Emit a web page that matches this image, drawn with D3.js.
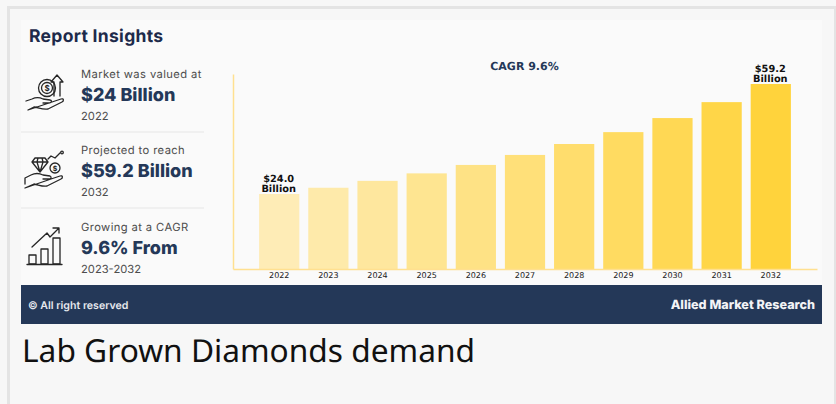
<!DOCTYPE html>
<html>
<head>
<meta charset="utf-8">
<script src="https://cdn.jsdelivr.net/npm/d3@7"></script>
<style>
  html, body { margin: 0; padding: 0; background: #f7f7f7; overflow: hidden; }
  text { text-rendering: geometricPrecision; }
  .pop { font-family: Inter, "Noto Sans", sans-serif; }
  .dv { font-family: "DejaVu Sans", sans-serif; }
  .ico path, .ico circle, .ico rect { fill: none; stroke: #262626; stroke-width: 1.3; stroke-linejoin: round; stroke-linecap: round; }
</style>
</head>
<body>
<script>
const years = [2022, 2023, 2024, 2025, 2026, 2027, 2028, 2029, 2030, 2031, 2032];
const values = [24.0, 26.0, 28.2, 30.6, 33.3, 36.5, 40.0, 43.8, 48.3, 53.4, 59.2];
const barLabels = { 2022: "$24.0", 2032: "$59.2" };

const insightLead = ["Market was valued at", "Projected to reach", "Growing at a CAGR"];
const insightMain = ["$24 Billion", "$59.2 Billion", "9.6% From"];
const insightNote = ["2022", "2032", "2023-2032"];

const W = 836, H = 404;
const navy = "#243858";

const svg = d3.select("body").append("svg")
  .attr("width", W)
  .attr("height", H)
  .style("display", "block");

// page frame
svg.append("rect").attr("width", W).attr("height", H).attr("fill", "#f7f7f7");
svg.append("rect").attr("x", 7).attr("y", 6).attr("width", 827).attr("height", 3).attr("fill", "#e4e4e4");
svg.append("rect").attr("x", 7).attr("y", 6).attr("width", 3).attr("height", H).attr("fill", "#e4e4e4");
svg.append("rect").attr("x", 834).attr("y", 6).attr("width", 2).attr("height", H).attr("fill", "#e4e4e4");

// card and footer
svg.append("rect").attr("x", 21).attr("y", 20).attr("width", 801).attr("height", 265).attr("fill", "#fafafa");
svg.append("rect").attr("x", 21).attr("y", 285).attr("width", 801).attr("height", 39).attr("fill", navy);

svg.append("text").attr("class", "pop")
  .attr("x", 29).attr("y", 42)
  .attr("font-size", 17.5).attr("font-weight", 700).attr("letter-spacing", 0.3).attr("fill", "#1d2a4a")
  .text("Report Insights");

svg.append("text").attr("class", "pop")
  .attr("x", 28).attr("y", 309)
  .attr("font-size", 10.6).attr("font-weight", 600).attr("fill", "#e6e8ee")
  .text("© All right reserved");

svg.append("text").attr("class", "pop")
  .attr("x", 815).attr("y", 309).attr("text-anchor", "end")
  .attr("font-size", 12.6).attr("font-weight", 800).attr("fill", "#f2f3f6")
  .text("Allied Market Research");

svg.append("text")
  .attr("x", 22).attr("y", 362)
  .attr("font-family", "'Noto Sans', sans-serif")
  .attr("font-size", 31.7).attr("fill", "#111")
  .text("Lab Grown Diamonds demand");

// left panel
const rowY = [78, 154, 231];
insightLead.forEach((d, i) => {
  const g = svg.append("g").attr("class", "pop").attr("transform", `translate(81,${rowY[i]})`);
  g.append("text").attr("font-size", 11.2).attr("letter-spacing", 0.4).attr("fill", "#4d4d4d").text(d);
  g.append("text").attr("y", 23).attr("font-size", 18).attr("font-weight", 800).attr("fill", navy).text(insightMain[i]);
  g.append("text").attr("y", 42).attr("font-size", 11.2).attr("fill", "#4d4d4d").text(insightNote[i]);
});
[132, 208].forEach(y => {
  svg.append("line").attr("x1", 21).attr("x2", 204).attr("y1", y).attr("y2", y)
    .attr("stroke", "#e6e6e6").attr("stroke-width", 1);
});

// icon 1: coin and arrow over a hand
const ico1 = svg.append("g").attr("class", "ico").attr("transform", "translate(24,74)");
ico1.append("circle").attr("cx", 23).attr("cy", 14).attr("r", 8.5);
ico1.append("circle").attr("cx", 23).attr("cy", 14).attr("r", 5.5);
ico1.append("path").attr("d", "M30 22V8L27 8L33 1L39 8L36 8V22");
ico1.append("path").attr("d", "M2 27L8 25C12 23 15 23 19 25L26 26C28 26 28 29 25 29L19 29M28 28L37 25C40 24 40 27 38 28L24 35C20 36 15 34 10 33L4 36Z");
ico1.append("text").attr("x", 23).attr("y", 17).attr("text-anchor", "middle")
  .attr("font-size", 8).attr("font-weight", 700).attr("font-family", "Inter").attr("fill", "#262626").text("$");

// icon 2: diamond, coin and trend over a hand
const ico2 = svg.append("g").attr("class", "ico").attr("transform", "translate(24,150)");
ico2.append("path").attr("d", "M8 12L11 8H21L24 12L16 22Z M8 12H24 M14 8L13 12L16 22L19 12L18 8");
ico2.append("circle").attr("cx", 31).attr("cy", 18).attr("r", 5);
ico2.append("path").attr("d", "M24 9L27 6L31 8L36 3");
ico2.append("circle").attr("cx", 38).attr("cy", 2.5).attr("r", 1.3);
ico2.append("path").attr("d", "M1 34V28L7 25C11 23 15 23 19 25L26 26C28 27 27 29 25 29L19 29M27 29L36 26C39 25 39 28 37 29L23 36C19 37 15 35 10 34L1 38Z");
ico2.append("text").attr("x", 31).attr("y", 21).attr("text-anchor", "middle")
  .attr("font-size", 7).attr("font-weight", 700).attr("font-family", "Inter").attr("fill", "#262626").text("$");

// icon 3: bars with an arrow
const ico3 = svg.append("g").attr("class", "ico").attr("transform", "translate(26,227)");
ico3.append("rect").attr("x", 3).attr("y", 28).attr("width", 7).attr("height", 9);
ico3.append("rect").attr("x", 15).attr("y", 22).attr("width", 7).attr("height", 15);
ico3.append("rect").attr("x", 27).attr("y", 11).attr("width", 7).attr("height", 26);
ico3.append("path").attr("d", "M1 37.5H36");
ico3.append("path").attr("d", "M6 20L21 6L24 10L33 1M27 1H33V6");

// chart
const x = d3.scaleBand()
  .domain(years)
  .range([233, 817])
  .paddingInner(0.182)
  .paddingOuter(0.531);

const y = d3.scaleLinear()
  .domain([0, 62.4])
  .range([269, 74]);

const barColor = d3.scaleLinear()
  .domain([0, years.length - 1])
  .range(["#feecb6", "#ffd33c"]);

svg.selectAll("rect.bar")
  .data(years)
  .join("rect")
  .attr("class", "bar")
  .attr("x", d => x(d))
  .attr("width", x.bandwidth())
  .attr("y", (d, i) => y(values[i]))
  .attr("height", (d, i) => y(0) - y(values[i]))
  .attr("fill", (d, i) => barColor(i));

const axisColor = "#ffe090";
const xAxis = svg.append("g")
  .attr("transform", `translate(0,${y(0)})`)
  .call(d3.axisBottom(x).tickSize(0).tickPadding(3));
xAxis.select(".domain").attr("stroke", axisColor).attr("stroke-width", 1.5);
xAxis.selectAll("text").attr("font-family", "'DejaVu Sans', sans-serif").attr("font-size", 8).attr("fill", "#222");

const yAxis = svg.append("g")
  .attr("transform", "translate(233,0)")
  .call(d3.axisLeft(y).tickValues([]).tickSize(0));
yAxis.select(".domain").attr("stroke", axisColor).attr("stroke-width", 1.5);

years.filter(d => barLabels[d]).forEach(d => {
  const v = values[years.indexOf(d)];
  const cx = x(d) + x.bandwidth() / 2 - 0.5;
  const t = svg.append("text").attr("class", "dv")
    .attr("text-anchor", "middle")
    .attr("font-size", 9.8).attr("font-weight", 700).attr("fill", "#111");
  t.append("tspan").attr("x", cx).attr("y", y(v) - 12).text(barLabels[d]);
  t.append("tspan").attr("x", cx).attr("y", y(v) - 2).text("Billion");
});

svg.append("text").attr("class", "dv")
  .attr("x", 524.5).attr("y", 70).attr("text-anchor", "middle")
  .attr("font-size", 11).attr("font-weight", 700).attr("fill", navy)
  .text("CAGR 9.6%");
</script>
</body>
</html>
